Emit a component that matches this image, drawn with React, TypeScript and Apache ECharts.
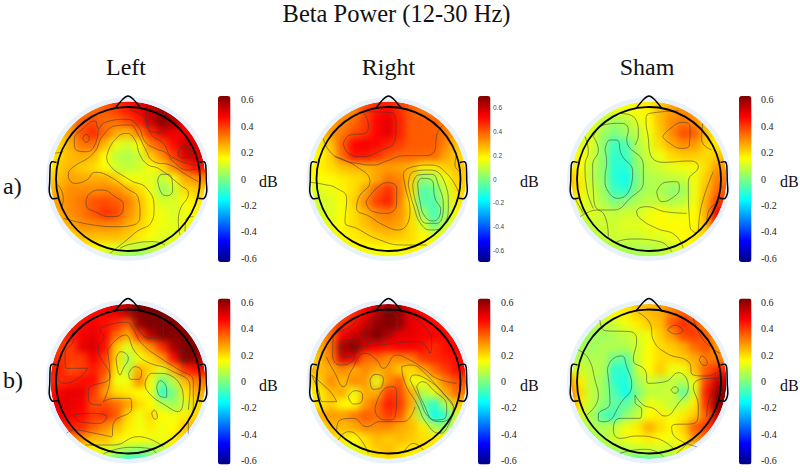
import React, { useEffect, useRef } from "react";
import * as echarts from "echarts";

const serif = "Liberation Serif";
const jet = ["#00007f", "#0000ff", "#007fff", "#00ffff", "#7fff7f", "#ffff00", "#ff7f00", "#ff0000", "#7f0000"];
const colIdx = ["0","1","2","3","4","5","6","7","8","9","10","11","12","13","14"];
const tickLabels = [-0.6, -0.4, -0.2, 0, 0.2, 0.4, 0.6];

// scalp maps: hundredths of a dB, 15 rows of 15 cells
const leftA = [
[30,30,30,30,32,36,42,46,50,54,54,52,50,48,46],
[30,30,28,30,34,36,40,44,48,56,58,54,50,50,48],
[25,25,30,36,38,34,34,38,44,54,62,58,50,50,50],
[20,22,28,38,42,34,26,24,32,42,50,50,48,50,50],
[18,20,26,33,34,24,14,10,16,32,38,46,54,52,50],
[16,20,24,26,24,16,8,6,10,22,30,40,52,54,50],
[16,22,25,22,20,16,10,8,10,15,20,30,40,46,44],
[20,24,27,26,26,26,22,15,14,12,8,14,26,30,30],
[24,26,30,30,30,31,30,26,20,14,4,9,20,22,22],
[26,28,30,33,37,38,36,32,24,17,11,11,15,18,18],
[24,26,30,32,37,41,39,30,24,17,14,11,14,16,16],
[18,22,26,30,30,31,30,26,22,17,14,12,14,14,14],
[14,16,20,24,24,24,24,22,18,15,12,12,14,14,14],
[12,14,16,18,16,14,12,10,8,8,10,12,14,14,14],
[10,10,10,10,8,6,3,0,0,3,6,10,10,10,10],
];
const rightA = [
[30,30,30,30,34,38,44,46,42,38,34,32,30,30,30],
[30,30,30,30,34,44,50,52,46,40,36,34,30,30,30],
[26,28,30,34,38,44,52,56,48,40,40,40,34,30,30],
[18,24,32,36,42,46,52,56,48,40,40,40,36,28,26],
[16,20,26,40,52,54,52,48,44,40,40,40,34,26,22],
[16,18,24,38,50,50,46,40,38,38,38,38,30,24,20],
[18,19,22,26,28,28,30,31,30,28,20,20,24,26,24],
[16,17,18,20,22,24,30,36,34,24,2,6,16,24,24],
[13,13,15,19,22,30,40,46,36,22,-6,-2,10,22,24],
[12,11,13,17,24,34,44,48,34,20,-6,-6,8,20,22],
[12,11,13,17,22,28,34,36,32,22,4,-8,4,18,20],
[13,13,15,18,22,26,30,32,30,22,12,-2,10,18,18],
[14,14,15,18,20,22,24,26,25,22,18,14,16,18,18],
[14,14,14,14,16,18,18,18,18,20,18,18,18,18,18],
[12,12,12,12,14,14,14,14,14,16,16,16,18,18,18],
];
const shamA = [
[10,10,10,12,14,16,18,18,20,24,26,26,22,22,20],
[8,10,12,14,14,14,16,18,24,28,30,28,24,22,22],
[6,8,12,8,4,6,12,16,24,30,32,30,22,14,14],
[8,10,12,4,0,4,8,14,22,30,38,36,24,14,14],
[10,12,12,2,-8,-6,6,12,20,26,30,28,22,18,20],
[16,16,10,2,-10,-8,4,10,14,20,22,22,20,22,24],
[20,16,8,2,-11,-11,2,8,10,13,14,14,20,28,28],
[24,18,8,2,-11,-14,0,6,7,8,9,14,22,32,32],
[24,18,10,4,-8,-10,2,6,6,2,4,14,24,34,38],
[18,14,10,6,0,2,6,8,8,6,8,14,26,40,44],
[10,10,12,10,8,10,10,14,16,14,14,16,26,48,54],
[6,6,8,10,10,12,12,14,16,16,16,16,24,50,56],
[4,4,6,8,10,10,10,12,12,14,16,18,22,38,42],
[2,2,4,6,6,6,6,6,8,10,14,16,18,20,22],
[2,2,2,2,4,4,4,4,6,8,10,12,14,14,14],
];
const leftB = [
[44,44,44,44,46,50,54,56,66,72,70,60,54,52,50],
[44,44,44,44,46,48,50,56,68,76,76,64,56,54,52],
[42,44,44,46,48,46,42,36,60,76,78,66,58,56,56],
[40,42,44,48,50,46,34,26,40,56,64,62,66,60,56],
[38,40,40,50,52,46,22,12,22,30,42,58,72,66,58],
[42,42,40,40,48,40,20,6,14,20,28,46,64,60,52],
[44,44,38,40,44,38,18,8,26,20,12,26,42,46,46],
[44,42,44,46,46,32,14,14,30,14,-2,8,24,32,32],
[46,48,50,50,40,28,20,18,16,14,-10,0,18,26,26],
[48,50,50,48,38,38,34,28,20,16,8,4,10,20,20],
[50,50,48,46,40,42,36,20,14,20,16,14,18,20,20],
[38,44,44,42,36,30,24,18,14,18,14,16,22,28,28],
[26,30,32,30,24,24,18,16,16,14,14,18,22,26,26],
[14,16,18,18,16,12,8,4,2,4,8,14,16,16,16],
[6,6,6,6,6,2,-6,-12,-12,-6,0,6,8,8,8],
];
const rightB = [
[34,34,34,36,40,46,52,58,56,48,42,40,38,38,38],
[34,34,34,36,42,48,56,66,60,50,48,46,42,42,42],
[30,32,34,42,46,54,60,68,60,50,48,46,46,46,46],
[26,28,34,48,54,58,64,56,50,50,48,48,46,46,46],
[20,26,34,58,64,52,48,46,48,48,46,42,46,48,48],
[18,24,32,52,48,34,34,30,30,32,40,42,44,46,46],
[26,24,26,30,26,30,26,28,22,20,26,34,40,46,46],
[20,22,30,24,30,28,12,30,36,14,14,22,32,38,36],
[18,18,24,26,14,26,26,40,38,26,6,12,26,34,32],
[22,18,22,16,16,28,34,44,40,26,-2,-10,6,22,20],
[26,26,28,28,32,36,34,40,36,22,4,-14,-8,10,14],
[16,18,24,24,26,30,30,30,26,24,18,6,2,14,16],
[14,14,20,18,16,20,24,22,24,22,20,18,18,18,18],
[8,8,10,10,12,18,22,24,20,18,18,18,18,18,18],
[6,6,6,6,6,10,16,18,18,14,14,14,14,14,14],
];
const shamB = [
[14,14,14,16,18,20,24,24,28,30,34,32,30,30,30],
[14,14,14,14,16,18,22,24,26,32,36,34,30,30,30],
[6,6,8,8,10,14,18,22,24,36,42,38,30,28,28],
[2,4,4,4,6,8,12,14,22,28,38,40,36,26,24],
[4,4,4,6,6,6,10,16,20,22,26,34,38,28,24],
[6,6,6,6,-2,-4,10,16,20,20,22,26,32,32,28],
[12,10,8,6,-10,-10,8,16,22,14,14,24,36,42,44],
[30,18,8,4,-10,-12,4,10,8,8,6,14,40,54,56],
[36,20,8,4,-6,-14,0,8,8,10,-4,12,44,60,66],
[36,18,8,2,-4,-4,4,14,12,8,10,18,42,62,72],
[16,10,6,-6,-8,2,8,16,18,14,18,22,36,56,68],
[8,8,6,6,8,14,18,26,20,16,22,36,40,50,56],
[4,4,4,6,10,14,16,18,16,14,18,30,34,36,36],
[0,0,2,4,4,6,8,10,10,10,14,20,22,24,24],
[-2,-2,-2,-2,-2,-4,-8,-8,-6,0,8,12,14,14,14],
];

// contour lines, in 3x crop units
const leftAContours = [
[[158,160],[168,148],[178,160],[168,172],[158,160]],
[[205,130],[200,165],[170,200],[135,190],[133,165],[160,130],[195,108],[205,130],[225,112],[290,103],[325,125],[345,170],[375,190],[410,205],[430,230],[475,255],[512,250]],
[[300,75],[345,100],[365,150],[400,175],[425,215],[495,240]],
[[350,80],[348,110],[365,140],[395,142],[412,120],[405,90],[385,70]],
[[445,200],[460,185],[480,195],[482,210],[460,218],[445,210],[445,200]],
[[505,290],[470,270],[420,240],[372,230],[345,190],[325,150],[300,120],[260,122],[220,150],[190,205],[125,250],[115,270],[135,295],[170,285],[195,262],[230,270],[290,310],[325,340],[330,390],[310,420],[260,425],[190,420],[100,400]],
[[230,215],[250,170],[290,145],[315,165],[330,210],[355,240],[385,250],[450,300],[475,325],[450,375],[445,410],[450,450]],
[[230,215],[235,235],[300,285],[350,310],[372,370],[365,410],[320,440],[290,465],[240,505]],
[[383,285],[395,268],[415,268],[428,315],[412,332],[395,325],[383,285]],
[[168,350],[180,325],[215,315],[255,335],[280,360],[275,385],[240,395],[195,380],[170,365],[168,350]],
[[270,490],[300,478],[370,470],[405,480]],
[[75,205],[100,200]],
[[85,300],[100,340],[95,370]],
[[490,395],[470,400],[465,440]],
];
const rightAContours = [
[[160,175],[180,150],[225,145],[235,120],[218,80],[300,82],[318,120],[315,165],[265,200],[215,215],[175,205],[160,175]],
[[100,160],[120,200],[160,225],[200,235],[250,240],[290,228],[345,212],[400,212],[435,195],[440,150],[460,120]],
[[60,292],[100,298],[140,310],[170,340],[165,410],[200,430],[270,465],[340,480],[410,480]],
[[135,215],[200,245],[240,290],[205,340],[200,370],[240,395],[280,420],[325,435],[360,380],[345,300],[340,270],[370,245],[420,240],[470,265],[505,320]],
[[228,350],[260,310],[295,293],[320,310],[320,355],[290,385],[245,378],[228,350]],
[[355,300],[370,260],[420,255],[465,295],[475,360],[460,420],[425,435],[395,420],[370,360],[355,300]],
[[368,300],[385,270],[425,268],[445,300],[460,365],[440,415],[410,415],[380,360],[368,300]],
[[383,295],[395,280],[425,285],[435,340],[452,375],[430,408],[405,395],[390,350],[383,295]],
[[500,205],[495,240],[510,260]],
];
const shamAContours = [
[[338,155],[355,135],[400,112],[420,125],[418,180],[395,190],[355,172],[338,155]],
[[385,78],[300,85],[288,105],[295,160],[300,205],[340,232],[420,228],[445,245],[415,290],[420,425],[440,445]],
[[458,115],[455,165],[485,195]],
[[130,155],[160,120],[215,115],[235,135],[230,165],[280,240],[280,290],[240,340],[190,375],[150,375],[130,320],[128,240],[145,195],[130,155]],
[[165,195],[180,165],[200,165],[215,210],[248,260],[245,295],[205,340],[175,320],[165,280],[170,230],[165,195]],
[[320,320],[345,292],[380,290],[388,310],[365,340],[335,350],[320,320]],
[[410,385],[345,380],[290,365],[260,380],[270,400],[320,430],[375,450],[400,490]],
[[90,395],[140,375],[170,410],[175,455]],
[[200,470],[245,462],[330,470],[365,500]],
[[105,155],[115,200],[105,240],[110,310],[130,370]],
[[490,260],[455,360],[445,440]],
[[510,350],[475,380],[470,420]],
[[75,340],[100,385]],
[[210,85],[255,100],[265,150],[255,180]],
];
const leftBContours = [
[[300,62],[330,125],[365,145],[400,130],[398,80]],
[[443,195],[455,180],[472,195],[465,212],[448,208],[443,195]],
[[125,115],[130,150],[105,190],[108,235],[172,235],[150,262],[100,280],[75,250]],
[[475,430],[475,400],[490,350],[490,275],[440,235],[400,210],[335,160],[308,115],[290,97],[225,108],[210,120],[222,140],[205,175],[240,260],[175,300],[180,340],[215,345]],
[[232,180],[285,135],[315,185],[350,215],[420,240],[480,290],[475,360]],
[[232,180],[240,260],[220,335],[255,325],[300,325],[305,355],[250,400],[245,440],[195,430],[130,420],[110,430]],
[[258,205],[272,185],[295,205],[280,235],[270,255],[258,205]],
[[296,250],[315,230],[335,245],[325,268],[302,268],[296,250]],
[[345,280],[365,250],[395,250],[460,320],[445,365],[420,355],[350,300],[345,280]],
[[380,290],[390,272],[410,300],[410,322],[392,320],[380,290]],
[[365,370],[372,360],[382,382],[375,388],[365,370]],
[[130,375],[170,370],[230,380],[210,400],[150,395],[130,375]],
[[165,465],[250,465],[325,440],[400,470]],
[[220,492],[300,472],[355,475],[380,490]],
];
const rightBContours = [
[[150,175],[160,150],[185,150],[192,185],[175,200],[155,195],[150,175]],
[[222,130],[245,95],[290,68],[322,85],[318,115],[270,145],[235,158],[222,130]],
[[205,80],[185,108],[130,140],[128,195],[150,225],[185,215],[210,170],[270,165],[380,155],[405,165],[420,190],[425,150],[365,80]],
[[108,200],[135,250],[160,290],[185,240],[225,190],[260,210],[280,235],[320,195],[350,205],[400,235],[440,265],[500,280]],
[[240,270],[255,253],[280,265],[275,290],[250,298],[240,270]],
[[175,320],[195,302],[218,315],[215,335],[190,342],[175,320]],
[[255,355],[280,300],[310,290],[320,315],[315,380],[290,390],[260,375],[255,355]],
[[335,230],[345,280],[380,340],[410,400],[450,430],[470,415],[495,355]],
[[335,230],[360,225],[400,245],[495,355]],
[[360,270],[370,255],[400,262],[470,320],[490,355],[455,395],[420,385],[385,320],[360,270]],
[[380,290],[395,275],[430,300],[470,350],[465,385],[435,390],[400,340],[380,290]],
[[140,420],[150,390],[190,385],[230,410],[270,395],[340,395],[375,350]],
[[145,450],[175,425],[205,440],[235,490]],
[[340,490],[370,460],[400,480]],
[[65,255],[100,285],[125,310],[140,335],[100,335],[85,300],[65,255]],
];
const shamBContours = [
[[352,120],[375,106],[398,122],[378,132],[352,120]],
[[448,210],[455,198],[472,220],[462,227],[448,210]],
[[265,68],[300,100],[310,150],[350,190],[415,215],[430,255],[470,258],[510,240]],
[[150,90],[165,122],[240,125],[260,150],[250,210],[285,240],[295,280],[345,275],[385,248],[415,290],[385,340],[345,378],[310,355],[280,345],[255,315],[255,335],[275,360],[270,385],[210,385],[190,420],[210,445],[260,438],[320,445],[370,475]],
[[172,240],[185,210],[215,198],[230,230],[245,285],[215,335],[165,395],[145,390],[145,375],[180,340],[172,240]],
[[362,300],[375,290],[385,300],[375,310],[362,300]],
[[510,265],[480,265],[430,290],[445,350],[440,395],[365,410],[370,435],[440,470]],
[[470,380],[480,320],[515,295]],
[[85,180],[115,205],[135,270],[145,320],[110,375]],
[[210,490],[280,478],[320,485],[340,500]],
[[380,490],[415,460],[430,450]],
[[430,85],[460,150],[510,190]],
];

const panels = [
  { grid: leftA, contours: leftAContours, cx: 128, cy: 179, cropX: 30, cropY: 85, range: 0.63, barX: 218, barY: 96, labelX: 241, small: false },
  { grid: rightA, contours: rightAContours, cx: 388.5, cy: 179, cropX: 290, cropY: 85, range: 0.7, barX: 478, barY: 96, labelX: 493, small: true },
  { grid: shamA, contours: shamAContours, cx: 649, cy: 179, cropX: 550, cropY: 85, range: 0.63, barX: 739, barY: 96, labelX: 761, small: false },
  { grid: leftB, contours: leftBContours, cx: 128, cy: 381.5, cropX: 30, cropY: 290, range: 0.63, barX: 218, barY: 298.5, labelX: 241, small: false },
  { grid: rightB, contours: rightBContours, cx: 388.5, cy: 381.5, cropX: 290, cropY: 290, range: 0.63, barX: 478, barY: 298.5, labelX: 501, small: false },
  { grid: shamB, contours: shamBContours, cx: 649, cy: 381.5, cropX: 550, cropY: 290, range: 0.63, barX: 739, barY: 298.5, labelX: 761, small: false },
];
const discR = 77.5;
const halo = 82;
const half = 85;
const barW = 12.5;
const barH = 166;
const heatSize = 172;

const texts = [
  { s: "Beta Power (12-30 Hz)", x: 396.5, y: 13, size: 24.5, align: "center" },
  { s: "Left", x: 126, y: 67, size: 24, align: "center" },
  { s: "Right", x: 388.5, y: 67, size: 24, align: "center" },
  { s: "Sham", x: 647, y: 67, size: 24, align: "center" },
  { s: "a)", x: 3, y: 186, size: 24, align: "left" },
  { s: "b)", x: 3, y: 380, size: 24, align: "left" },
  { s: "dB", x: 259, y: 181, size: 16, align: "left" },
  { s: "dB", x: 520, y: 181, size: 16, align: "left" },
  { s: "dB", x: 780, y: 181, size: 16, align: "left" },
  { s: "dB", x: 259, y: 385, size: 16, align: "left" },
  { s: "dB", x: 520, y: 385, size: 16, align: "left" },
  { s: "dB", x: 780, y: 385, size: 16, align: "left" },
];

const nose = [[-13, -70.5], [-5, -80], [0, -83], [5, -80], [13, -70.5]];
const leftEar = [[-71.5, -16.5], [-76, -17.3], [-77.7, -14], [-78.3, 2.7], [-78.7, 12.7], [-76, 19.3], [-70.3, 19.3]];

function heatOption() {
  return {
    animation: false,
    grid: panels.map((p) => ({ left: p.cx - heatSize / 2, top: p.cy - heatSize / 2, width: heatSize, height: heatSize })),
    xAxis: panels.map((_, i) => ({ type: "category", gridIndex: i, data: colIdx, show: false })),
    yAxis: panels.map((_, i) => ({ type: "category", gridIndex: i, data: colIdx, inverse: true, show: false })),
    visualMap: panels.map((p, i) => ({
      show: false, seriesIndex: i, min: -p.range, max: p.range, dimension: 2, inRange: { color: jet },
    })),
    series: panels.map((p, i) => ({
      type: "heatmap", xAxisIndex: i, yAxisIndex: i, silent: true, progressive: 0,
      data: p.grid.flatMap((row, r) => row.map((v, c) => [c, r, v / 100])),
    })),
  };
}

function topOption() {
  const grid: any[] = [];
  const xAxis: any[] = [];
  const yAxis: any[] = [];
  const series: any[] = [];
  const graphic: any[] = [];
  panels.forEach((p, i) => {
    const zx = (p.cx - p.cropX) * 3;
    const zy = (p.cy - p.cropY) * 3;
    grid.push({ left: p.cx - half, top: p.cy - half, width: half * 2, height: half * 2 });
    xAxis.push({ type: "value", gridIndex: i, min: zx - half * 3, max: zx + half * 3, show: false });
    yAxis.push({ type: "value", gridIndex: i, min: zy - half * 3, max: zy + half * 3, inverse: true, show: false });
    p.contours.forEach((c) => {
      series.push({
        type: "line", xAxisIndex: i, yAxisIndex: i, data: c, smooth: 0.5, symbol: "none", silent: true, clip: false,
        lineStyle: { color: "rgba(60,60,60,0.62)", width: 0.9 },
      });
    });
    graphic.push({ type: "ring", shape: { cx: p.cx, cy: p.cy, r: halo, r0: discR }, style: { fill: "#e9f2fb" }, silent: true, z: 1 });
    graphic.push({ type: "circle", shape: { cx: p.cx, cy: p.cy, r: 72 }, style: { fill: "none", stroke: "#000", lineWidth: 1.8 }, silent: true, z: 10 });
    graphic.push({ type: "polyline", shape: { points: nose.map(([x, y]) => [p.cx + x, p.cy + y]), smooth: 0.25 }, style: { fill: "none", stroke: "#000", lineWidth: 1.5 }, silent: true, z: 10 });
    graphic.push({ type: "polyline", shape: { points: leftEar.map(([x, y]) => [p.cx + x, p.cy + y]), smooth: 0.25 }, style: { fill: "none", stroke: "#000", lineWidth: 1.5 }, silent: true, z: 10 });
    graphic.push({ type: "polyline", shape: { points: leftEar.map(([x, y]) => [p.cx - x, p.cy + y]), smooth: 0.25 }, style: { fill: "none", stroke: "#000", lineWidth: 1.5 }, silent: true, z: 10 });
  });
  panels.forEach((p, i) => {
    const g = panels.length + i;
    const unit = barH / (2 * p.range);
    const mid = p.barY + barH / 2;
    grid.push({ left: p.barX, top: mid - 0.6 * unit, width: barW, height: 1.2 * unit });
    xAxis.push({ type: "value", gridIndex: g, show: false });
    yAxis.push({
      type: "value", gridIndex: g, position: "right", min: tickLabels[0], max: tickLabels[tickLabels.length - 1], interval: 0.2,
      axisLine: { show: false }, axisTick: { show: false }, splitLine: { show: false },
      axisLabel: {
        margin: p.labelX - p.barX - barW,
        fontFamily: p.small ? "Liberation Sans" : serif,
        fontSize: p.small ? 6.5 : 10,
        color: p.small ? "#444" : "#222",
        formatter: (v: number) => (Math.abs(v) < 1e-6 ? "0" : v.toFixed(1)),
      },
    });
  });
  texts.forEach((t) => {
    graphic.push({
      type: "text", x: t.x, y: t.y, silent: true, z: 20,
      style: { text: t.s, fontFamily: serif, fontSize: t.size, fill: "#111", textAlign: t.align, textVerticalAlign: "middle" },
    });
  });
  return {
    animation: false,
    grid, xAxis, yAxis, series, graphic,
    visualMap: panels.map((p) => ({
      type: "continuous", show: true, seriesIndex: [], left: p.barX, top: p.barY, itemWidth: barW, itemHeight: barH,
      min: -p.range, max: p.range, calculable: false, padding: 0, text: null, inRange: { color: jet }, hoverLink: false,
    })),
  };
}

const clipPath = panels
  .map((p) => `M${p.cx - discR},${p.cy}a${discR},${discR} 0 1,0 ${discR * 2},0a${discR},${discR} 0 1,0 ${-discR * 2},0Z`)
  .join("");

export default function App() {
  const heatRef = useRef<HTMLDivElement>(null);
  const topRef = useRef<HTMLDivElement>(null);
  useEffect(() => {
    document.body.style.margin = "0";
    document.body.style.background = "#fff";
    const heat = echarts.init(heatRef.current!, undefined, { renderer: "svg" });
    const top = echarts.init(topRef.current!, undefined, { renderer: "svg" });
    heat.setOption(heatOption() as any);
    top.setOption(topOption() as any);
    return () => {
      heat.dispose();
      top.dispose();
    };
  }, []);
  return (
    <div style={{ position: "relative", width: 800, height: 472, overflow: "hidden", background: "#fff" }}>
      <div style={{ position: "absolute", left: 0, top: 0, width: 800, height: 472, clipPath: `path("${clipPath}")` }}>
        <div ref={heatRef} style={{ width: 800, height: 472, filter: "blur(3.5px)" }} />
      </div>
      <div ref={topRef} style={{ position: "absolute", left: 0, top: 0, width: 800, height: 472 }} />
    </div>
  );
}
